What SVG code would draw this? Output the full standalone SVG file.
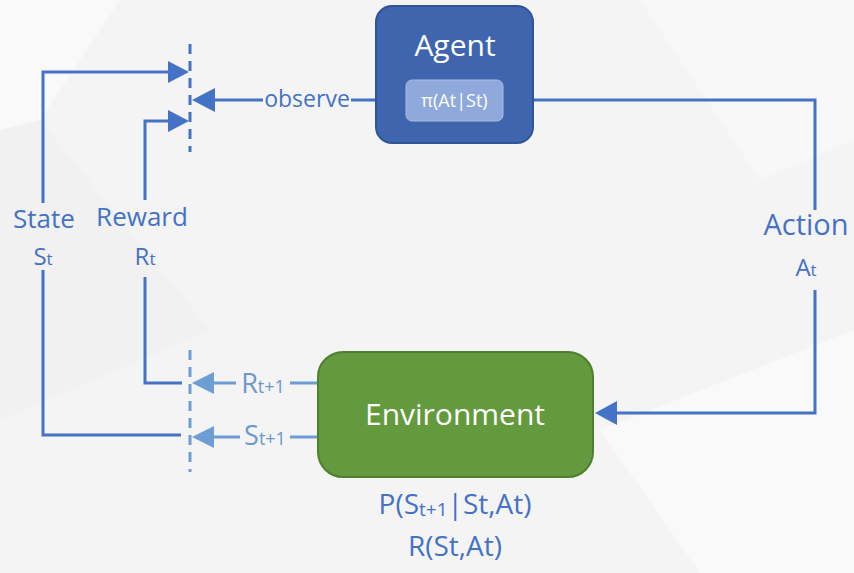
<svg xmlns="http://www.w3.org/2000/svg" width="854" height="573" viewBox="0 0 854 573">
  <defs>
    <style>
      .lbl { font-family: "Open Sans", "Noto Sans", "DejaVu Sans", sans-serif; fill: #4472c4; }
      .lt { font-family: "Open Sans", "Noto Sans", "DejaVu Sans", sans-serif; fill: #6a98cf; }
      .wt { font-family: "Open Sans", "Noto Sans", "DejaVu Sans", sans-serif; fill: #ffffff; }
      .ln { fill: none; stroke: #4472c4; stroke-width: 3; }
      .lnl { fill: none; stroke: #6d9dd3; stroke-width: 3; }
      .dash { fill: none; stroke: #4472c4; stroke-width: 3; stroke-dasharray: 10 7; }
      .dashl { fill: none; stroke: #6d9dd3; stroke-width: 3; stroke-dasharray: 10 7; }
    </style>
  </defs>

  <!-- backdrop with faint facets -->
  <rect x="0" y="0" width="854" height="573" fill="#f4f4f5"/>
  <polygon points="0,0 120,0 40,120 0,130" fill="#f9f9fa"/>
  <polygon points="640,0 854,0 854,140 760,180" fill="#f8f8f9"/>
  <polygon points="0,130 40,120 210,330 0,420" fill="#f1f1f2"/>
  <polygon points="600,430 854,330 854,573 700,573" fill="#f9f9fa"/>

  <!-- connectors -->
  <g id="connectors">
    <!-- observe: agent to sensor bar -->
    <line class="ln" x1="376" y1="100" x2="351" y2="100"/>
    <line class="ln" x1="263" y1="100" x2="210" y2="100"/>
    <polygon points="192,100 215,88 215,112" fill="#4472c4"/>
    <line x1="376" y1="100" x2="406" y2="100" stroke="#4f7fd0" stroke-width="3"/>

    <!-- action: agent to environment -->
    <line x1="503" y1="100" x2="533" y2="100" stroke="#4f7fd0" stroke-width="3"/>
    <polyline class="ln" points="533,100 815,100 815,210"/>
    <polyline class="ln" points="815,290 815,413 612,413"/>
    <polygon points="595,413 617,401 617,425" fill="#4472c4"/>

    <!-- state loop -->
    <polyline class="ln" points="43,203 43,72 172,72"/>
    <polygon points="189,72 168,61 168,83" fill="#4472c4"/>
    <polyline class="ln" points="43,270 43,435 181,435"/>

    <!-- reward loop -->
    <polyline class="ln" points="145,200 145,121 172,121"/>
    <polygon points="189,121 168,110 168,132" fill="#4472c4"/>
    <polyline class="ln" points="145,277 145,383 182,383"/>

    <!-- observation bar -->
    <line class="dash" x1="190" y1="44" x2="190" y2="152"/>
    <!-- transition bar -->
    <line class="dashl" x1="190" y1="350" x2="190" y2="472"/>

    <!-- R_{t+1}, S_{t+1} from environment -->
    <line class="lnl" x1="318" y1="383" x2="290" y2="383"/>
    <line class="lnl" x1="236" y1="383" x2="210" y2="383"/>
    <polygon points="192,383 214,372 214,394" fill="#6d9dd3"/>
    <line class="lnl" x1="318" y1="437" x2="290" y2="437"/>
    <line class="lnl" x1="240" y1="437" x2="210" y2="437"/>
    <polygon points="192,437 214,426 214,448" fill="#6d9dd3"/>
  </g>

  <!-- agent -->
  <g id="agent">
    <rect x="376" y="6" width="157" height="137" rx="16" fill="#3e65ae" stroke="#2f5597" stroke-width="2"/>
    <text class="wt" x="455" y="56" font-size="30" text-anchor="middle">Agent</text>
    <g id="policy">
      <rect x="406" y="80" width="97" height="41" rx="6" fill="#8fa9dc" stroke="#a9bde6" stroke-width="1"/>
      <text class="wt" x="454.5" y="107" font-size="18" text-anchor="middle">π(At|St)</text>
    </g>
  </g>

  <!-- environment -->
  <g id="environment">
    <rect x="318" y="352" width="275" height="125" rx="25" fill="#629a3d" stroke="#4e7f2f" stroke-width="2"/>
    <text class="wt" x="455" y="425" font-size="30" text-anchor="middle">Environment</text>
  </g>

  <!-- labels -->
  <g id="labels">
    <text class="lbl" x="307" y="107" font-size="23" text-anchor="middle">observe</text>

    <text class="lbl" x="44" y="228" font-size="26" text-anchor="middle">State</text>
    <text class="lbl" x="43" y="265" font-size="24" text-anchor="middle">S<tspan font-size="17">t</tspan></text>

    <text class="lbl" x="142" y="226" font-size="26" text-anchor="middle">Reward</text>
    <text class="lbl" x="145" y="265" font-size="24" text-anchor="middle">R<tspan font-size="17">t</tspan></text>

    <text class="lbl" x="806" y="235" font-size="29" text-anchor="middle">Action</text>
    <text class="lbl" x="806" y="276" font-size="24" text-anchor="middle">A<tspan font-size="17">t</tspan></text>

    <text class="lt" x="263" y="393" font-size="27" text-anchor="middle">R<tspan font-size="18">t+1</tspan></text>
    <text class="lt" x="265" y="445" font-size="27" text-anchor="middle">S<tspan font-size="18">t+1</tspan></text>

    <text class="lbl" x="455" y="514" font-size="28" text-anchor="middle">P(S<tspan font-size="19" dy="2">t+1</tspan><tspan dy="-2">|St,At)</tspan></text>
    <text class="lbl" x="455" y="556" font-size="28" text-anchor="middle">R(St,At)</text>
  </g>
</svg>
